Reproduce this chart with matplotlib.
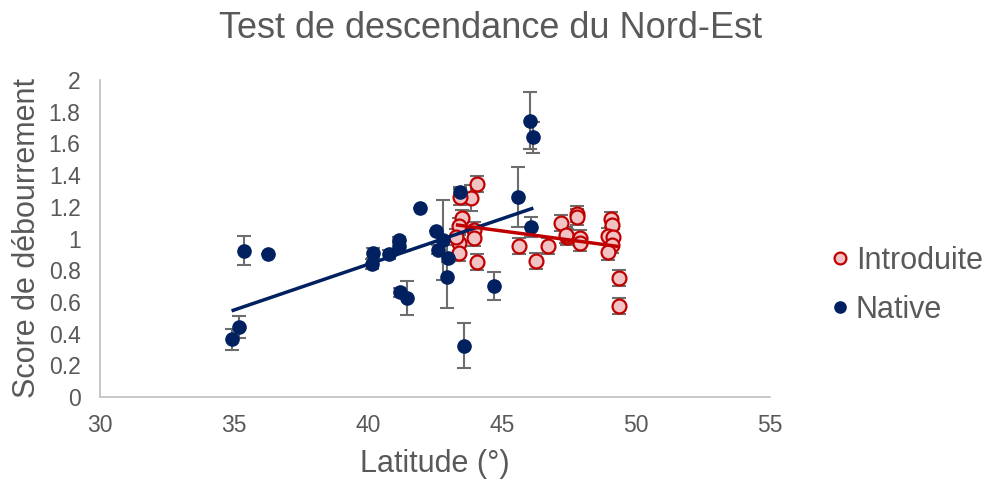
import numpy as np
import matplotlib
matplotlib.use("Agg")
import matplotlib.pyplot as plt

plt.rcParams['font.family'] = ['Liberation Sans', 'DejaVu Sans']

title = "Test de descendance du Nord-Est"
xlabel = "Latitude (°)"
ylabel = "Score de débourrement"

native_lat = [34.91, 35.19, 35.39, 36.25, 40.20, 40.16, 40.78, 41.16, 41.16, 41.19, 41.47, 41.95,
              42.52, 42.63, 42.80, 42.99, 42.93, 43.43, 43.60, 44.70, 45.60, 46.04, 46.17, 46.08]
native_score = [0.364, 0.444, 0.923, 0.90, 0.91, 0.84, 0.90, 0.99, 0.955, 0.66, 0.625, 1.19,
                1.05, 0.93, 0.99, 0.88, 0.76, 1.295, 0.324, 0.70, 1.262, 1.743, 1.638, 1.07]
native_err = [0.066, 0.07, 0.09, 0.0, 0.03, 0.03, 0.03, 0.02, 0.02, 0.03, 0.11, 0.0,
              0.0, 0.03, 0.25, 0.03, 0.2, 0.03, 0.143, 0.09, 0.19, 0.18, 0.097, 0.063]

intro_lat = [44.08, 43.84, 43.43, 43.50, 43.41, 43.96, 43.96, 43.38, 43.41, 44.08, 43.28,
             45.63, 46.28, 46.73, 47.21, 47.41, 47.40, 47.80, 47.80, 47.92, 47.92,
             49.05, 49.10, 48.96, 49.15, 49.12, 48.96, 49.35, 49.35]
intro_score = [1.342, 1.255, 1.264, 1.127, 1.08, 1.054, 1.005, 0.974, 0.906, 0.854, 1.011,
               0.953, 0.858, 0.953, 1.10, 1.01, 1.02, 1.155, 1.133, 1.005, 0.974,
               1.12, 1.085, 1.018, 1.01, 0.96, 0.917, 0.749, 0.574]
intro_err = [0.05, 0.08, 0.05, 0.05, 0.05, 0.05, 0.05, 0.05, 0.05, 0.05, 0.05,
             0.05, 0.05, 0.05, 0.05, 0.05, 0.05, 0.05, 0.05, 0.05, 0.05,
             0.05, 0.05, 0.05, 0.05, 0.05, 0.05, 0.05, 0.05]

NAVY = "#002060"
RED = "#C00000"
PINK = "#F2C3C5"
GREY = "#595959"
ERR = "#6d6d6d"

fig = plt.figure(figsize=(9.86, 4.84), dpi=100)
ax = fig.add_axes([100/986, 1-397/484, 670/986, 317/484])

# error bars
ax.errorbar(native_lat, native_score, yerr=native_err, fmt='none', ecolor=ERR,
            elinewidth=1.5, capsize=5, capthick=1.5, zorder=2)
ax.errorbar(intro_lat, intro_score, yerr=intro_err, fmt='none', ecolor=ERR,
            elinewidth=1.5, capsize=5, capthick=1.5, zorder=2)

# points
ax.plot(intro_lat, intro_score, 'o', ms=10, mfc=PINK, mec=RED, mew=1.6,
        linestyle='none', zorder=3, label="Introduite")
ax.plot(native_lat, native_score, 'o', ms=9.5, mfc=NAVY, mec=NAVY, mew=1,
        linestyle='none', zorder=4, label="Native")

# trend lines
for xs, ys, col in [(native_lat, native_score, NAVY), (intro_lat, intro_score, RED)]:
    xs = np.asarray(xs); ys = np.asarray(ys)
    m, b = np.polyfit(xs, ys, 1)
    xx = np.array([xs.min(), xs.max()])
    ax.plot(xx, m*xx + b, color=col, lw=2.5, zorder=5, solid_capstyle='butt')

ax.set_xlim(30, 55)
ax.set_ylim(0, 2)
ax.set_xticks(np.arange(30, 56, 5))
ax.set_yticks(np.arange(0, 2.01, 0.2))
ax.set_yticklabels([f"{v:g}" for v in np.round(np.arange(0, 2.01, 0.2), 1)])
ax.tick_params(length=0, labelsize=16.5, colors=GREY)
ax.tick_params(axis='y', pad=14)
ax.tick_params(axis='x', pad=12)
for s in ['top', 'right']:
    ax.spines[s].set_visible(False)
for s in ['left', 'bottom']:
    ax.spines[s].set_color("#BFBFBF")
    ax.spines[s].set_linewidth(1.2)

ax.set_xlabel(xlabel, fontsize=22, color=GREY, va='top')
ax.xaxis.set_label_coords(0.5, (397-449)/317)
ax.set_ylabel(ylabel, fontsize=22, color=GREY)
ax.yaxis.set_label_coords((42-100)/670, 0.5)
fig.text(491/986, 1-28/484, title, fontsize=26, color=GREY, ha='center', va='center')

leg = ax.legend(loc='center left', bbox_to_anchor=(1.055, 0.352), frameon=False,
                fontsize=22, handletextpad=0.0, labelspacing=0.62, handlelength=1.0,
                labelcolor=GREY, markerscale=0.85, borderaxespad=0.2)

fig.savefig("out.png", dpi=100)
